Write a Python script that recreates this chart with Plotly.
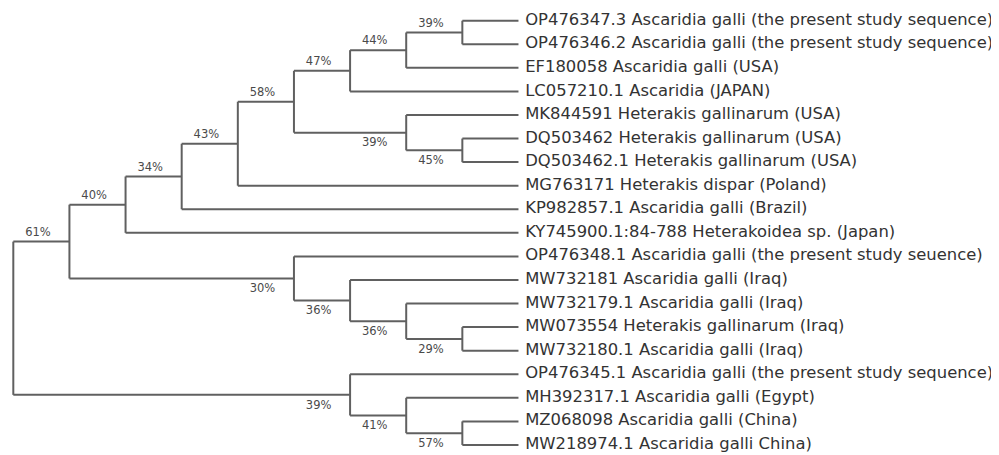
import json
import plotly.graph_objects as go

# ---- data ----
leaf_names = [
    "OP476347.3 Ascaridia galli (the present study sequence)",
    "OP476346.2 Ascaridia galli (the present study sequence)",
    "EF180058 Ascaridia galli (USA)",
    "LC057210.1 Ascaridia (JAPAN)",
    "MK844591 Heterakis gallinarum (USA)",
    "DQ503462 Heterakis gallinarum (USA)",
    "DQ503462.1 Heterakis gallinarum (USA)",
    "MG763171 Heterakis dispar (Poland)",
    "KP982857.1 Ascaridia galli (Brazil)",
    "KY745900.1:84-788 Heterakoidea sp. (Japan)",
    "OP476348.1 Ascaridia galli (the present study seuence)",
    "MW732181 Ascaridia galli (Iraq)",
    "MW732179.1 Ascaridia galli (Iraq)",
    "MW073554 Heterakis gallinarum (Iraq)",
    "MW732180.1 Ascaridia galli (Iraq)",
    "OP476345.1 Ascaridia galli (the present study sequence)",
    "MH392317.1 Ascaridia galli (Egypt)",
    "MZ068098 Ascaridia galli (China)",
    "MW218974.1 Ascaridia galli China)",
]
# topology (leaf indices), newick-like
topology = "(((((((((0,1),2),3),(4,(5,6))),7),8),9),(10,(11,(12,(13,14))))),(15,(16,(17,18))))"
# bootstrap support of non-root internal nodes, in preorder
bootstrap = [61, 40, 34, 43, 58, 47, 44, 39, 39, 45, 30, 36, 36, 29, 39, 41, 57]

tree = json.loads(topology.replace("(", "[").replace(")", "]"))

# ---- layout (cladogram, tips aligned) ----
def height(n):
    return 0 if isinstance(n, int) else 1 + max(height(c) for c in n)

H = height(tree)
pos = {}

def key(n):
    return ("leaf", n) if isinstance(n, int) else id(n)

def place(n):
    if isinstance(n, int):
        pos[key(n)] = (H, n)
        return pos[key(n)]
    ys = [place(c)[1] for c in n]
    pos[key(n)] = (H - height(n), (ys[0] + ys[-1]) / 2)
    return pos[key(n)]

place(tree)

lx, ly = [], []
bx, by, bt = [], [], []
counter = [0]

def walk(n):
    if isinstance(n, int):
        return
    x, y = pos[key(n)]
    y0 = pos[key(n[0])][1]
    y1 = pos[key(n[-1])][1]
    lx.extend([x, x, None]); ly.extend([y0, y1, None])
    for i, c in enumerate(n):
        cx, cy = pos[key(c)]
        lx.extend([x, cx, None]); ly.extend([cy, cy, None])
        if not isinstance(c, int):
            val = bootstrap[counter[0]]
            counter[0] += 1
            bx.append(cx - 0.56)
            by.append(cy - 0.37 if i == 0 else cy + 0.46)
            bt.append(f"{val}%")
        walk(c)

walk(tree)

fig = go.Figure()
fig.add_trace(go.Scatter(
    x=lx, y=ly, mode="lines",
    line=dict(color="#606060", width=2),
    hoverinfo="skip",
))
fig.add_trace(go.Scatter(
    x=bx, y=by, mode="text", text=bt,
    textposition="middle center",
    textfont=dict(family="DejaVu Sans", size=11.5, color="#4a4a4a"),
    hoverinfo="skip", cliponaxis=False,
))
fig.add_trace(go.Scatter(
    x=[H + 0.12] * len(leaf_names), y=list(range(len(leaf_names))),
    mode="text", text=leaf_names, textposition="middle right",
    textfont=dict(family="DejaVu Sans", size=16.4, color="#333333"),
    hoverinfo="skip", cliponaxis=False,
))

fig.update_layout(
    width=991, height=447, autosize=False,
    margin=dict(l=0, r=0, t=0, b=0),
    paper_bgcolor="white", plot_bgcolor="white",
    showlegend=False, hovermode=False,
    xaxis=dict(range=[-0.0944, 17.561], visible=False, fixedrange=True),
    yaxis=dict(range=[18.426, -0.539], visible=False, fixedrange=True),
)
fig.write_html("out.html", config={"displayModeBar": False})
